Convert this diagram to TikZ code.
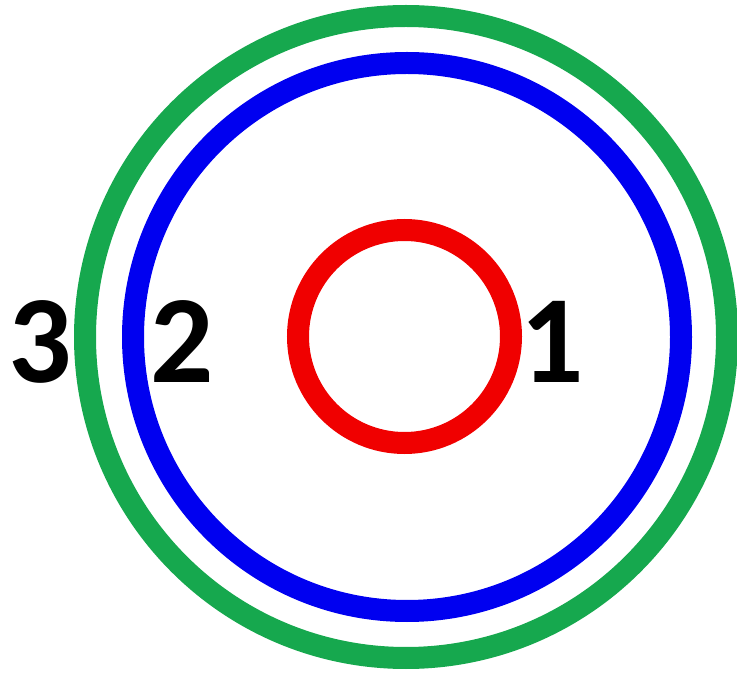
\documentclass[tikz,border=0pt]{standalone}
\usepackage{fontspec}
\setmainfont{Carlito}
\definecolor{ringgreen}{RGB}{22,168,78}
\definecolor{ringblue}{RGB}{0,0,240}
\definecolor{ringred}{RGB}{240,0,0}
\begin{document}
\begin{tikzpicture}[x=1pt,y=1pt,
  ring/.style={line width=22pt},
  lbl/.style={inner sep=0pt,anchor=base,font=\fontsize{125}{125}\selectfont\bfseries,text=black}]
\useasboundingbox (0,0) rectangle (737,673);
\coordinate (c) at (406,336);
\draw[ring,ringgreen] (c) circle[radius=321];
\draw[ring,ringblue] (407,336) circle[radius=274];
\draw[ring,ringred] (404.5,336.5) circle[radius=106.5];
\node[lbl] (n3) at (40,290) {3};
\node[lbl] (n2) at (182,290) {2};
\node[lbl] (n1) at (552,290) {1};
\end{tikzpicture}
\end{document}
